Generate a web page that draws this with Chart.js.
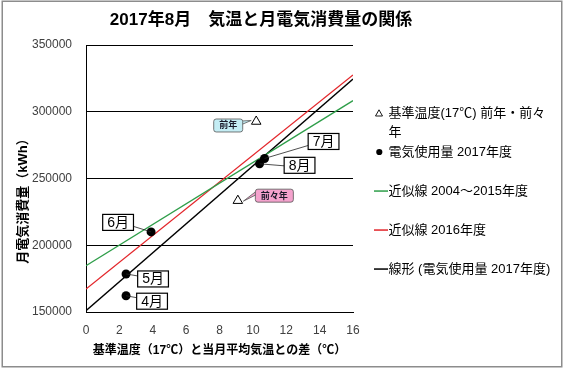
<!DOCTYPE html>
<html>
<head>
<meta charset="utf-8">
<script src="https://cdn.jsdelivr.net/npm/chart.js@4.4.1/dist/chart.umd.min.js"></script>
<style>
html,body{margin:0;padding:0;background:#fff;}
canvas{display:block;}
</style>
</head>
<body>
<canvas id="c" width="563" height="369"></canvas>
<script>
// ---------- data ----------
const chartTitle = '2017年8月\u3000気温と月電気消費量の関係';
const xAxisTitle = '基準温度（17℃）と当月平均気温との差（℃）';
const yAxisTitle = '月電気消費量（kWh）';
const xTickValues = [0, 2, 4, 6, 8, 10, 12, 14, 16];
const yTickValues = [150000, 200000, 250000, 300000, 350000];

const refLabels = ['前年', '前々年'];
const refTempDiff = [10.2, 9.1];
const refUsage = [292700, 233400];

const months = ['4月', '5月', '6月', '7月', '8月'];
const tempDiff2017 = [2.4, 2.4, 3.9, 10.7, 10.4];
const usage2017 = [162200, 178500, 210000, 265000, 261000];

const lineX = [0, 16];
const fit2004to2015 = [184700, 308300];
const fit2016 = [167200, 327500];
const fit2017 = [151000, 324500];

const seriesNames = ['基準温度(17℃) 前年・前々年', '電気使用量 2017年度', '近似線 2004～2015年度', '近似線 2016年度', '線形 (電気使用量 2017年度)'];
const legendLines = [['基準温度(17℃) 前年・前々', '年'], ['電気使用量 2017年度', ''], ['近似線 2004～2015年度', ''], ['近似線 2016年度', ''], ['線形 (電気使用量 2017年度)', '']];

// ---------- styles ----------
const FONT = '"Liberation Sans", "Noto Sans CJK JP", sans-serif';
const GREEN = '#2f9e4a', RED = '#e3262b', BLACK = '#000000';
const monthBoxOffsets = [[26, 5.5], [27, 5], [-33, -9.5], [59, -17], [40, 1.5]];
const refBoxOffsets = [[-28, 4], [36.5, -5]];
const refBoxFills = ['#c4edf4', '#f4a2cd'];

function makeIcon(kind, color) {
  const c = document.createElement('canvas');
  c.width = 49; c.height = 16;
  const g = c.getContext('2d');
  const cx = 36, cy = 8;
  if (kind === 'tri') {
    g.beginPath(); g.moveTo(cx - 3.5, cy + 3); g.lineTo(cx + 3.5, cy + 3); g.lineTo(cx, cy - 3.2); g.closePath();
    g.fillStyle = '#fff'; g.fill(); g.strokeStyle = '#000'; g.lineWidth = 0.9; g.stroke();
  } else if (kind === 'dot') {
    g.beginPath(); g.arc(cx + 0.3, cy, 3.1, 0, Math.PI * 2); g.fillStyle = '#000'; g.fill();
  } else {
    g.fillStyle = color; g.fillRect(31, cy - 0.7, 14, 1.5);
  }
  return c;
}
const legendIcons = [makeIcon('tri'), makeIcon('dot'), makeIcon('line', GREEN), makeIcon('line', RED), makeIcon('line', BLACK)];

const pts = (xs, ys) => xs.map((x, i) => ({x: x, y: ys[i]}));

const framePlugin = {
  id: 'frame',
  beforeDraw(chart) {
    const ctx = chart.ctx;
    ctx.save(); ctx.fillStyle = '#fff'; ctx.fillRect(0, 0, chart.width, chart.height); ctx.restore();
    // let the legend text run past its (narrow) layout box instead of being clipped
    const lg = chart.legend;
    if (lg && !lg._noClip) {
      lg._noClip = true;
      lg.draw = function () { if (this.options.display) { this._draw(); } };
    }
  },
  afterDraw(chart) {
    const ctx = chart.ctx;
    ctx.save(); ctx.strokeStyle = '#8c8c8c'; ctx.lineWidth = 1.5;
    ctx.strokeRect(2.25, 1.25, 559.5, 365.5); ctx.restore();
  }
};

function roundRect(ctx, x, y, w, h, r) {
  ctx.beginPath();
  ctx.moveTo(x + r, y); ctx.lineTo(x + w - r, y); ctx.quadraticCurveTo(x + w, y, x + w, y + r);
  ctx.lineTo(x + w, y + h - r); ctx.quadraticCurveTo(x + w, y + h, x + w - r, y + h);
  ctx.lineTo(x + r, y + h); ctx.quadraticCurveTo(x, y + h, x, y + h - r);
  ctx.lineTo(x, y + r); ctx.quadraticCurveTo(x, y, x + r, y); ctx.closePath();
}

const labelPlugin = {
  id: 'pointLabels',
  afterDatasetsDraw(chart) {
    const ctx = chart.ctx;
    ctx.save();
    // month labels
    const meta = chart.getDatasetMeta(1);
    ctx.font = '14px ' + FONT; ctx.textAlign = 'center'; ctx.textBaseline = 'middle';
    meta.data.forEach((pt, i) => {
      const [dx, dy] = monthBoxOffsets[i];
      const text = months[i];
      const w = ctx.measureText(text).width + 9, h = 16;
      const cx = pt.x + dx, cy = pt.y + dy;
      const left = cx - w / 2, top = cy - h / 2;
      const ex = dx > 0 ? left : left + w;
      const ey = Math.max(top + 4, Math.min(top + h - 4, pt.y + 2));
      ctx.beginPath(); ctx.moveTo(pt.x, pt.y); ctx.lineTo(ex, ey);
      ctx.strokeStyle = '#222'; ctx.lineWidth = 0.8; ctx.stroke();
      ctx.fillStyle = '#fff'; ctx.fillRect(left, top, w, h);
      ctx.strokeStyle = '#000'; ctx.lineWidth = 1.2; ctx.strokeRect(left, top, w, h);
      ctx.fillStyle = '#000'; ctx.fillText(text, cx, cy + 0.5);
    });
    // reference callouts
    const rmeta = chart.getDatasetMeta(0);
    ctx.font = 'bold 9px ' + FONT;
    rmeta.data.forEach((pt, i) => {
      const [dx, dy] = refBoxOffsets[i];
      const text = refLabels[i];
      const w = ctx.measureText(text).width + 11, h = 13;
      const cx = pt.x + dx, cy = pt.y + dy;
      const left = cx - w / 2, top = cy - h / 2;
      const edge = dx < 0 ? left + w - 1 : left + 1;
      const tipX = dx < 0 ? pt.x - 5 : pt.x + 5.5;
      const tipY = dx < 0 ? pt.y - 1 : pt.y + 0.5;
      ctx.beginPath();
      ctx.moveTo(edge, top + 2); ctx.lineTo(tipX, tipY); ctx.lineTo(edge, top + 5.5); ctx.closePath();
      ctx.fillStyle = refBoxFills[i]; ctx.fill();
      ctx.strokeStyle = '#555'; ctx.lineWidth = 0.8; ctx.stroke();
      roundRect(ctx, left, top, w, h, 2.5);
      ctx.fillStyle = refBoxFills[i]; ctx.fill();
      ctx.strokeStyle = '#555'; ctx.lineWidth = 0.8; ctx.stroke();
      ctx.fillStyle = '#1a1a2a'; ctx.fillText(text, cx, cy + 0.5);
    });
    ctx.restore();
  }
};

new Chart(document.getElementById('c'), {
  type: 'scatter',
  data: {
    datasets: [
      { label: seriesNames[0], data: pts(refTempDiff, refUsage), pointStyle: 'triangle', pointRadius: 5.5,
        backgroundColor: '#fff', borderColor: '#000', borderWidth: 1 },
      { label: seriesNames[1], data: pts(tempDiff2017, usage2017), pointStyle: 'circle', pointRadius: 4.5,
        backgroundColor: '#000', borderColor: '#000', borderWidth: 0 },
      { label: seriesNames[2], data: pts(lineX, fit2004to2015), showLine: true, borderColor: GREEN, borderWidth: 1.3,
        pointRadius: 0, pointHoverRadius: 0, backgroundColor: GREEN },
      { label: seriesNames[3], data: pts(lineX, fit2016), showLine: true, borderColor: RED, borderWidth: 1.3,
        pointRadius: 0, pointHoverRadius: 0, backgroundColor: RED },
      { label: seriesNames[4], data: pts(lineX, fit2017), showLine: true, borderColor: BLACK, borderWidth: 1.3,
        pointRadius: 0, pointHoverRadius: 0, backgroundColor: BLACK }
    ]
  },
  options: {
    responsive: false,
    animation: false,
    devicePixelRatio: 1,
    events: [],
    layout: { padding: { left: 2, right: 43, top: 2, bottom: 3 } },
    plugins: {
      title: { display: true, text: chartTitle, color: '#000',
        font: { family: FONT, size: 17, weight: 'bold' }, padding: { top: 8.3, bottom: 14.3 } },
      legend: {
        display: true, position: 'right', align: 'start', maxWidth: 50,
        title: { display: true, text: '', font: { size: 12, lineHeight: 1.2 }, padding: { top: 90.1, bottom: 0 } },
        labels: {
          usePointStyle: true, pointStyleWidth: 29, padding: 0, color: '#000',
          font: { family: FONT, size: 13, lineHeight: 1.5 },
          generateLabels: (chart) => chart.data.datasets.map((ds, i) => ({
            text: legendLines[i], pointStyle: legendIcons[i], fillStyle: '#000', strokeStyle: '#000',
            lineWidth: 1, hidden: false, datasetIndex: i, fontColor: '#000'
          }))
        }
      },
      tooltip: { enabled: false }
    },
    scales: {
      x: {
        type: 'linear', position: 'bottom', min: 0, max: 16,
        afterBuildTicks: (s) => { s.ticks = xTickValues.map(v => ({ value: v })); },
        afterFit: (s) => { s.height = 54; },
        grid: { display: false, drawTicks: false },
        border: { display: true, color: '#000', width: 1 },
        ticks: { padding: 11, color: '#404040', font: { family: FONT, size: 12 }, callback: (v) => String(v) },
        title: { display: true, text: xAxisTitle, color: '#000',
          font: { family: FONT, size: 12, weight: 'bold' }, padding: { top: 0, bottom: 8.1 } }
      },
      y: {
        type: 'linear', position: 'left', min: 150000, max: 350000,
        afterBuildTicks: (s) => { s.ticks = yTickValues.map(v => ({ value: v })); },
        afterFit: (s) => { s.width = 84; },
        grid: { color: '#000', lineWidth: 1, drawTicks: false },
        border: { display: true, color: '#000', width: 1 },
        ticks: { padding: 14, color: '#404040', font: { family: FONT, size: 12 }, callback: (v) => String(v) },
        title: { display: true, text: yAxisTitle + '\u3000\u3000\u3000\u2002', color: '#000',
          font: { family: FONT, size: 13, weight: 'bold' }, padding: { top: 13.5, bottom: 0 } }
      },
      rightSpace: {
        type: 'linear', position: 'right', weight: 2000, display: true,
        grid: { display: false, drawTicks: false }, border: { display: false },
        ticks: { display: false },
        afterFit: (s) => { s.width = 117; }
      }
    }
  },
  plugins: [framePlugin, labelPlugin]
});
</script>
</body>
</html>
